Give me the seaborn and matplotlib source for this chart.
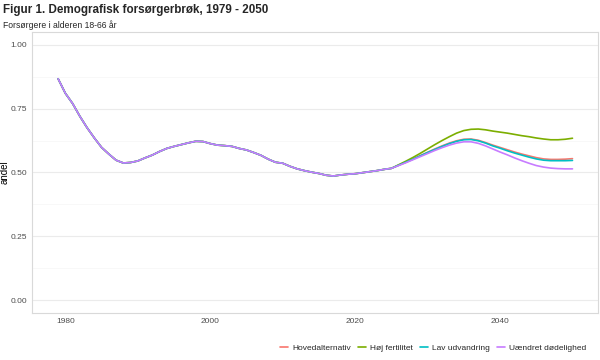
import numpy as np
import pandas as pd
import seaborn as sns
import matplotlib.pyplot as plt
from matplotlib.ticker import FixedLocator, MultipleLocator

# Historisk forsørgerbrøk 1979-2025 (fælles for alle alternativer)
hist_years = list(range(1979, 2026))
hist_values = [0.867, 0.810, 0.770, 0.720, 0.675, 0.635, 0.598, 0.572, 0.548, 0.537,
               0.539, 0.545, 0.557, 0.568, 0.582, 0.594, 0.602, 0.609, 0.616, 0.622,
               0.621, 0.613, 0.607, 0.605, 0.602, 0.594, 0.588, 0.578, 0.567, 0.552,
               0.540, 0.536, 0.524, 0.514, 0.507, 0.501, 0.496, 0.489, 0.486, 0.490,
               0.493, 0.495, 0.499, 0.503, 0.507, 0.512, 0.516]

# Fremskrivninger 2026-2050
proj_years = list(range(2026, 2051))
hovedalternativ = [0.528, 0.540, 0.553, 0.566, 0.579, 0.592, 0.604, 0.615, 0.624, 0.630,
                   0.631, 0.626, 0.617, 0.607, 0.598, 0.589, 0.580, 0.572, 0.565, 0.558,
                   0.553, 0.551, 0.551, 0.552, 0.554]
hoej_fertilitet = [0.530, 0.544, 0.559, 0.575, 0.592, 0.609, 0.625, 0.640, 0.654, 0.664,
                   0.669, 0.670, 0.667, 0.662, 0.658, 0.654, 0.649, 0.644, 0.640, 0.635,
                   0.631, 0.628, 0.628, 0.630, 0.634]
lav_udvandring = [0.528, 0.540, 0.552, 0.565, 0.578, 0.590, 0.602, 0.613, 0.622, 0.628,
                  0.629, 0.624, 0.615, 0.604, 0.595, 0.585, 0.576, 0.568, 0.560, 0.553,
                  0.548, 0.546, 0.546, 0.546, 0.547]
uaendret_doedelighed = [0.527, 0.538, 0.550, 0.562, 0.574, 0.586, 0.597, 0.607, 0.615, 0.620,
                        0.620, 0.614, 0.604, 0.592, 0.580, 0.569, 0.557, 0.546, 0.536, 0.527,
                        0.521, 0.517, 0.515, 0.514, 0.514]

series_names = ['Hovedalternativ', 'Høj fertilitet', 'Lav udvandring', 'Uændret dødelighed']
series_values = [hovedalternativ, hoej_fertilitet, lav_udvandring, uaendret_doedelighed]
colors = ['#F8766D', '#7CAE00', '#00BFC4', '#C77CFF']

y_ticks = [0.0, 0.25, 0.5, 0.75, 1.0]
y_labels = ['0.00', '0.25', '0.50', '0.75', '1.00']
x_ticks = [1980, 2000, 2020, 2040]

frames = []
for name, vals in zip(series_names, series_values):
    frames.append(pd.DataFrame({'aar': hist_years + proj_years,
                                'andel': hist_values + vals,
                                'alternativ': name}))
data = pd.concat(frames, ignore_index=True)

sns.set_theme(style='white')
plt.rcParams['font.family'] = ['Liberation Sans', 'DejaVu Sans']

fig = plt.figure(figsize=(6, 3.6), dpi=100)
ax = fig.add_axes([0.054, 0.131, 0.943, 0.78])

sns.lineplot(data=data, x='aar', y='andel', hue='alternativ', hue_order=series_names,
             palette=colors, linewidth=1.2, ax=ax, legend=False)

ax.set_xlim(1975.45, 2053.55)
ax.set_ylim(-0.05, 1.05)
ax.set_xticks(x_ticks)
ax.yaxis.set_major_locator(FixedLocator(y_ticks))
ax.set_yticklabels(y_labels)
ax.yaxis.set_minor_locator(FixedLocator([0.125, 0.375, 0.625, 0.875]))
ax.grid(axis='y', which='major', color='#EBEBEB', linewidth=0.8)
ax.grid(axis='y', which='minor', color='#F5F5F5', linewidth=0.5)
ax.grid(axis='x', visible=False)
for s in ax.spines.values():
    s.set_color('#D9D9D9')
    s.set_linewidth(0.8)
ax.tick_params(axis='both', which='both', length=0, labelsize=6, labelcolor='#4D4D4D', pad=4)
ax.set_xlabel('')
ax.set_ylabel('andel', fontsize=7, color='black')
ax.yaxis.set_label_coords(-0.04, 0.5)

fig.text(0.005, 0.972, 'Figur 1. Demografisk forsørgerbrøk, 1979 - 2050',
         fontsize=8.4, fontweight='bold', va='center', ha='left')
fig.text(0.005, 0.93, 'Forsørgere i alderen 18-66 år', fontsize=6.2, va='center', ha='left')

handles = [plt.Line2D([], [], color=c, linewidth=1.2) for c in colors]
fig.legend(handles, series_names, loc='center right', bbox_to_anchor=(0.99, 0.033),
           ncol=4, frameon=False, fontsize=6, handlelength=1.0, handletextpad=0.5,
           columnspacing=0.8)

fig.savefig('out.png', dpi=100)
